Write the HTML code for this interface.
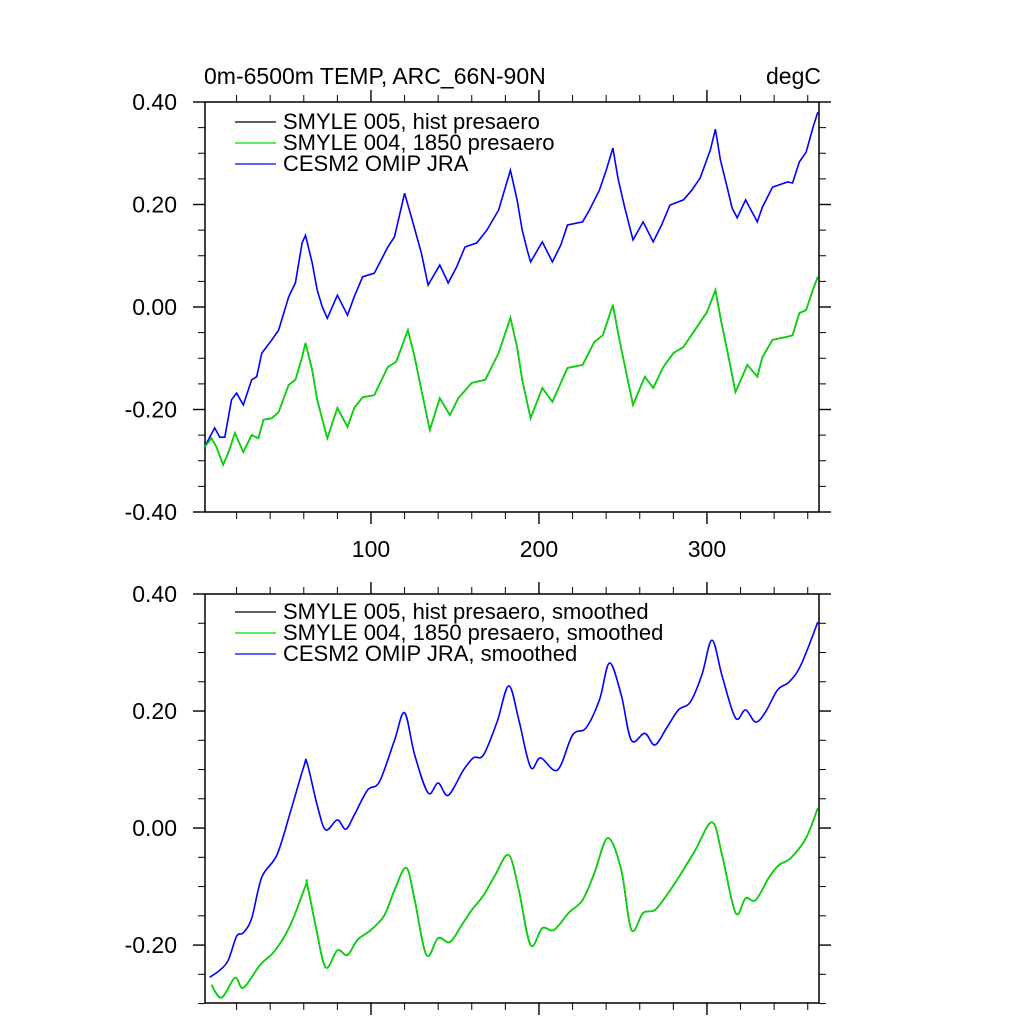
<!DOCTYPE html>
<html><head><meta charset="utf-8"><style>
body{margin:0;background:#fff}
svg text{font-family:"Liberation Sans",sans-serif;fill:#000}
</style></head><body>
<svg id="c" width="1024" height="1024" viewBox="0 0 1024 1024">
<text x="204" y="84" font-size="23">0m-6500m TEMP, ARC_66N-90N</text>
<text x="821" y="84" font-size="23" text-anchor="end">degC</text>
</svg>
<script>
// ---------- data ----------
const xTicks=[100,200,300];
const yTicksTop=[0.4,0.2,0,-0.2,-0.4];
const yTicksBot=[0.4,0.2,0,-0.2];
const yTickLabelsTop=["0.40","0.20","0.00","-0.20","-0.40"];
const yTickLabelsBot=["0.40","0.20","0.00","-0.20"];

const blueDays=[1,4,7,10,13,17,20,24,29,32,35,41,45,51,55,59,61,65,68,71,74,80,86,90,95,102,110,114,120,125,130,134,141,146,151,156,163,169,176,183,187,190,193,195,202,208,213,217,226,230,236,240,244,247,251,256,262,268,273,278,286,291,296,302,305,308,312,315,318,323,330,333,339,348,351,355,359,363,366];
const blueVals=[-0.273,-0.254,-0.236,-0.254,-0.254,-0.181,-0.168,-0.191,-0.142,-0.136,-0.09,-0.064,-0.045,0.02,0.047,0.125,0.14,0.086,0.033,0.0,-0.022,0.023,-0.016,0.02,0.059,0.066,0.117,0.137,0.222,0.164,0.105,0.043,0.082,0.047,0.078,0.117,0.125,0.150,0.189,0.267,0.209,0.150,0.111,0.088,0.127,0.088,0.121,0.160,0.166,0.189,0.228,0.267,0.310,0.252,0.195,0.131,0.166,0.127,0.160,0.199,0.209,0.228,0.252,0.306,0.347,0.287,0.234,0.193,0.174,0.209,0.166,0.195,0.234,0.244,0.242,0.283,0.302,0.349,0.380];
const greenDays=[1,5,8,12,15,19,24,29,33,36,41,45,51,55,59,61,65,68,74,80,86,90,95,102,110,115,122,126,130,135,141,147,152,160,168,176,183,187,190,195,202,208,213,217,226,233,238,244,247,251,256,263,268,274,280,286,294,300,305,308,312,317,324,330,333,339,348,351,355,359,363,366];
const greenVals=[-0.273,-0.256,-0.273,-0.308,-0.285,-0.246,-0.283,-0.250,-0.256,-0.220,-0.217,-0.205,-0.152,-0.142,-0.098,-0.070,-0.123,-0.181,-0.256,-0.197,-0.234,-0.197,-0.176,-0.172,-0.117,-0.107,-0.045,-0.098,-0.162,-0.240,-0.178,-0.211,-0.178,-0.148,-0.142,-0.090,-0.021,-0.078,-0.142,-0.217,-0.158,-0.185,-0.148,-0.119,-0.113,-0.068,-0.055,0.004,-0.049,-0.113,-0.191,-0.136,-0.158,-0.117,-0.090,-0.078,-0.039,-0.010,0.033,-0.020,-0.084,-0.166,-0.113,-0.136,-0.098,-0.064,-0.058,-0.055,-0.012,-0.006,0.033,0.059];

const blueSmDays=[4,10,15,20,24,29,35,44,52,60,62,68,73,80,85,90,98,105,114,120,126,134,140,146,155,161,167,175,182,188,195,201,211,220,228,236,242,249,255,263,269,276,283,290,297,303,309,317,323,329,335,342,349,356,366];
const blueSmVals=[-0.255,-0.243,-0.226,-0.185,-0.179,-0.154,-0.084,-0.046,0.027,0.105,0.111,0.039,-0.003,0.014,-0.002,0.022,0.065,0.079,0.150,0.197,0.125,0.060,0.077,0.056,0.099,0.120,0.125,0.181,0.243,0.185,0.104,0.120,0.099,0.159,0.171,0.219,0.282,0.227,0.150,0.162,0.142,0.171,0.202,0.215,0.262,0.321,0.260,0.188,0.202,0.181,0.199,0.236,0.250,0.279,0.352];
const greenSmDays=[5,11,19,24,34,43,52,61,62,67,73,80,86,92,100,108,114,121,126,133,140,147,154,160,167,174,182,188,195,202,209,218,226,233,241,249,255,262,269,276,283,293,303,309,317,323,329,337,343,350,359,366];
const greenSmVals=[-0.268,-0.29,-0.256,-0.273,-0.234,-0.209,-0.166,-0.099,-0.096,-0.166,-0.238,-0.209,-0.217,-0.191,-0.174,-0.149,-0.106,-0.068,-0.123,-0.217,-0.188,-0.195,-0.166,-0.140,-0.115,-0.080,-0.046,-0.106,-0.200,-0.171,-0.174,-0.144,-0.123,-0.077,-0.017,-0.072,-0.174,-0.145,-0.140,-0.115,-0.085,-0.038,0.010,-0.046,-0.145,-0.120,-0.123,-0.084,-0.063,-0.051,-0.017,0.034];

// ---------- drawing ----------
const NS="http://www.w3.org/2000/svg";
const svg=document.getElementById('c');
function mk(tag,attrs){const e=document.createElementNS(NS,tag);for(const k in attrs)e.setAttribute(k,attrs[k]);svg.appendChild(e);return e;}
const X0=205,X1=819,D0=1.2,D1=366.7;
function xs(d){return X0+(d-D0)/(D1-D0)*(X1-X0);}
const pTop={y0:102,y1:512,v0:0.4,v1:-0.4};
const pBot={y0:594,y1:1003,v0:0.4,v1:-0.299};
function ys(p,v){return p.y0+(p.v0-v)/(p.v0-p.v1)*(p.y1-p.y0);}

function panel(p,name,yt,ytl,showXLabels,minMinor){
  const f=mk('rect',{x:X0,y:p.y0,width:X1-X0,height:p.y1-p.y0,fill:'none',stroke:'#000','stroke-width':1.5});
  
  
  for(let d=20;d<=360;d+=20){
    const major=d%100===0, len=major?12:7, x=xs(d);
    const t1=mk('line',{x1:x,x2:x,y1:p.y1,y2:p.y1+len,stroke:'#000','stroke-width':major?1.4:1});
    
    
    const t2=mk('line',{x1:x,x2:x,y1:p.y0,y2:p.y0-len,stroke:'#000','stroke-width':major?1.4:1});
    
    
  }
  if(showXLabels){
    xTicks.forEach(d=>{
      const t=mk('text',{x:xs(d),y:p.y1+45,'font-size':23,'text-anchor':'middle'});
      t.textContent=String(d);
      
      
    });
  }
  for(let k=0;;k++){
    const vv=Math.round((0.4-0.05*k)*100)/100;
    if(vv<minMinor-1e-9)break;
    const y=ys(p,vv);
    const major=Math.abs(Math.round(vv*100))%20===0, len=major?12:7;
    const a=mk('line',{x1:X0,x2:X0-len,y1:y,y2:y,stroke:'#000','stroke-width':major?1.4:1});
    
    
    const b=mk('line',{x1:X1,x2:X1+len,y1:y,y2:y,stroke:'#000','stroke-width':major?1.4:1});
    
    
  }
  yt.forEach((v,i)=>{
    const t=mk('text',{x:177,y:ys(p,v)+8,'font-size':23,'text-anchor':'end'});
    t.textContent=ytl[i];
    
    
  });
}
function pathD(p,days,vals){return days.map((d,i)=>(i?'L':'M')+xs(d).toFixed(1)+' '+ys(p,vals[i]).toFixed(1)).join(' ');}
function smoothD(p,days,vals){
  const pts=days.map((d,i)=>[xs(d),ys(p,vals[i])]);
  let s='M'+pts[0][0].toFixed(1)+' '+pts[0][1].toFixed(1);
  for(let i=0;i<pts.length-1;i++){
    const p0=pts[i-1]||pts[i],p1=pts[i],p2=pts[i+1],p3=pts[i+2]||p2;
    const c1=[p1[0]+(p2[0]-p0[0])/6,p1[1]+(p2[1]-p0[1])/6],c2=[p2[0]-(p3[0]-p1[0])/6,p2[1]-(p3[1]-p1[1])/6];
    s+=` C${c1[0].toFixed(1)} ${c1[1].toFixed(1)} ${c2[0].toFixed(1)} ${c2[1].toFixed(1)} ${p2[0].toFixed(1)} ${p2[1].toFixed(1)}`;
  }
  return s;
}
function legend(y,name,labels){
  const cols=['#000','#00dd00','#0000ff'];
  labels.forEach((l,i)=>{
    const yy=y+i*21;
    const ln=mk('line',{x1:235,x2:276,y1:yy,y2:yy,stroke:cols[i],'stroke-width':1.3});
    
    
    const t=mk('text',{x:283,y:yy+7,'font-size':22});
    t.textContent=l;
    
    
  });
}

panel(pTop,'top-panel',yTicksTop,yTickLabelsTop,true,-0.4);
panel(pBot,'bottom-panel',yTicksBot,yTickLabelsBot,false,-0.3);

let e;
e=mk('path',{d:pathD(pTop,blueDays,blueVals),fill:'none',stroke:'#0000ff','stroke-width':1.6});


e=mk('path',{d:pathD(pTop,greenDays,greenVals),fill:'none',stroke:'#000','stroke-width':1.6});


e=mk('path',{d:pathD(pTop,greenDays,greenVals),fill:'none',stroke:'#00dd00','stroke-width':1.6});



e=mk('path',{d:smoothD(pBot,blueSmDays,blueSmVals),fill:'none',stroke:'#0000ff','stroke-width':1.6});


e=mk('path',{d:smoothD(pBot,greenSmDays,greenSmVals),fill:'none',stroke:'#000','stroke-width':1.6});


e=mk('path',{d:smoothD(pBot,greenSmDays,greenSmVals),fill:'none',stroke:'#00dd00','stroke-width':1.6});



legend(122,'top',["SMYLE 005, hist presaero","SMYLE 004, 1850 presaero","CESM2 OMIP JRA"]);
legend(612,'bottom',["SMYLE 005, hist presaero, smoothed","SMYLE 004, 1850 presaero, smoothed","CESM2 OMIP JRA, smoothed"]);
</script>
</body></html>
